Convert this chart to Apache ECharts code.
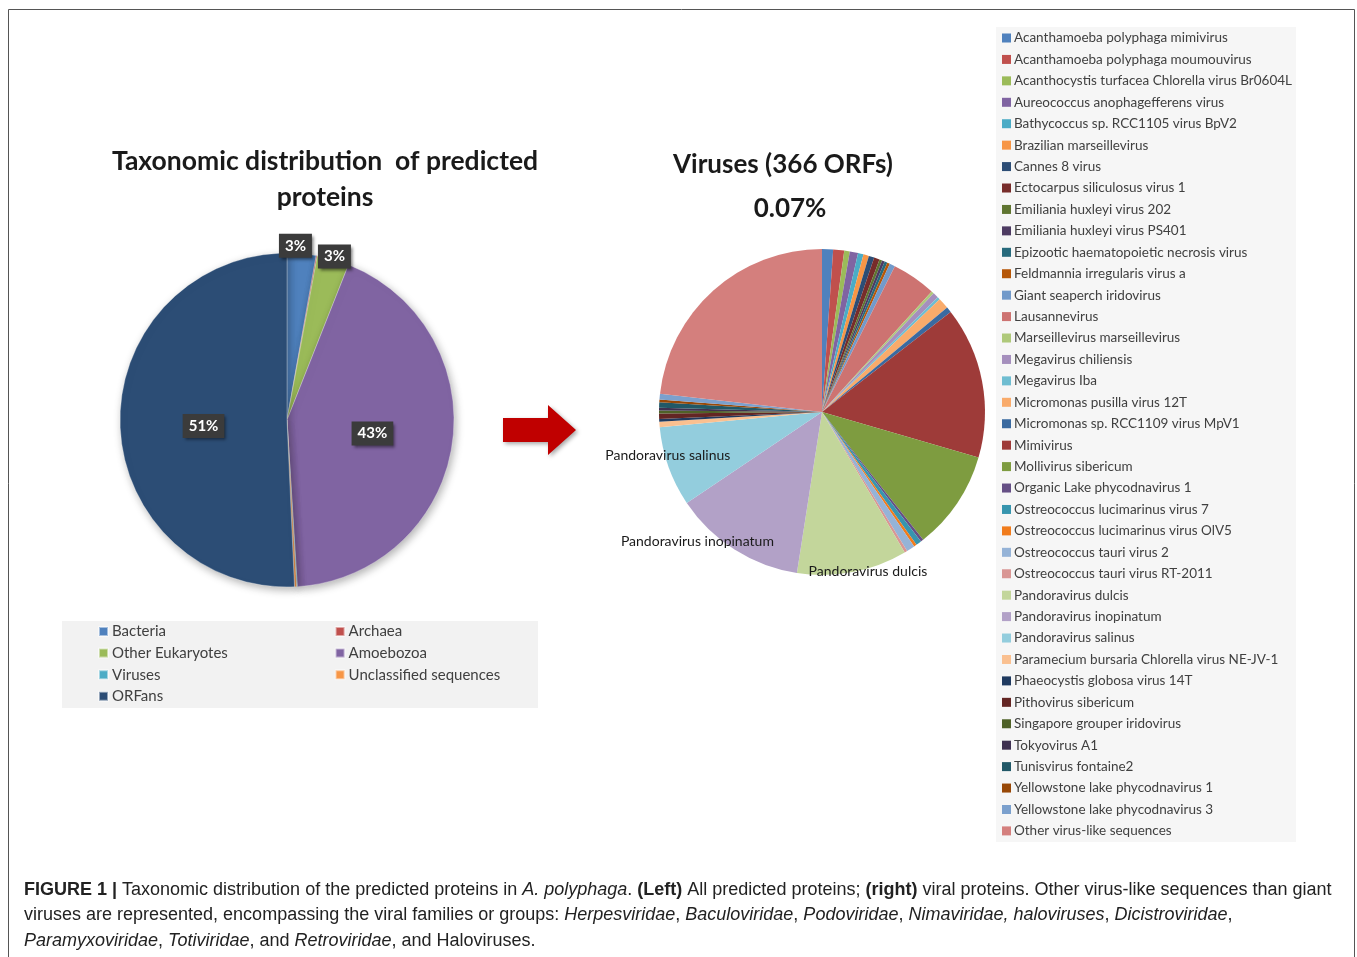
<!DOCTYPE html>
<html>
<head>
<meta charset="utf-8">
<script src="https://cdn.jsdelivr.net/npm/echarts@6/dist/echarts.min.js"></script>
<style>html,body{margin:0;padding:0;background:#fff;}#c{width:1357px;height:957px;}</style>
</head>
<body>
<div id="c"></div>
<script>
// ---- data ----
const leftCategories = ['Bacteria','Archaea','Other Eukaryotes','Amoebozoa','Viruses','Unclassified sequences','ORFans'];
const leftValues = [2.8, 0.1, 3.1, 43.0, 0.07, 0.2, 50.7];
const leftColors = ['#4F81BD','#C0504D','#9BBB59','#8064A2','#4BACC6','#F79646','#2C4D75'];

const virusCategories = [
  'Acanthamoeba polyphaga mimivirus','Acanthamoeba polyphaga moumouvirus','Acanthocystis turfacea Chlorella virus Br0604L',
  'Aureococcus anophagefferens virus','Bathycoccus sp. RCC1105 virus BpV2','Brazilian marseillevirus','Cannes 8 virus',
  'Ectocarpus siliculosus virus 1','Emiliania huxleyi virus 202','Emiliania huxleyi virus PS401',
  'Epizootic haematopoietic necrosis virus','Feldmannia irregularis virus a','Giant seaperch iridovirus','Lausannevirus',
  'Marseillevirus marseillevirus','Megavirus chiliensis','Megavirus Iba','Micromonas pusilla virus 12T',
  'Micromonas sp. RCC1109 virus MpV1','Mimivirus','Mollivirus sibericum','Organic Lake phycodnavirus 1',
  'Ostreococcus lucimarinus virus 7','Ostreococcus lucimarinus virus OlV5','Ostreococcus tauri virus 2',
  'Ostreococcus tauri virus RT-2011','Pandoravirus dulcis','Pandoravirus inopinatum','Pandoravirus salinus',
  'Paramecium bursaria Chlorella virus NE-JV-1','Phaeocystis globosa virus 14T','Pithovirus sibericum',
  'Singapore grouper iridovirus','Tokyovirus A1','Tunisvirus fontaine2','Yellowstone lake phycodnavirus 1',
  'Yellowstone lake phycodnavirus 3','Other virus-like sequences'
];
const virusValues = [4,4,2,3,2,2,2,2,1,1,1,1,2,16,1,2,1,4,2,55,36,1,2,1,3,1,40,48,29,2,1,2,1,1,2,1,2,85];
const virusColors = ['#4F81BD','#C0504D','#9BBB59','#8064A2','#4BACC6','#F79646','#2C4D75','#772C2A','#5F7530','#4D3B62',
  '#276A7C','#B65708','#729ACA','#CD7371','#AFC97A','#A58FBD','#6FBDD1','#F9AB6B','#3A6AA0','#9E3B39','#7E9C40','#654F85',
  '#3795AE','#F17C1C','#95B3D7','#D99694','#C3D69B','#B2A1C7','#93CDDD','#FAC090','#1F3A5F','#632523','#4F6228','#3F3151',
  '#215867','#984807','#7BA0CD','#D47F7D'];
const labelledViruses = ['Pandoravirus dulcis','Pandoravirus inopinatum','Pandoravirus salinus'];

const leftTitle = 'Taxonomic distribution  of predicted\nproteins';
const rightTitle = 'Viruses (366 ORFs)';
const rightSubtitle = '0.07%';

// ---- chart ----
const chart = echarts.init(document.getElementById('c'));
const FONT = 'Lato';
const leftLabelShown = [0, 2, 3, 6];
const leftInside = [3, 6];
const leftShift = {0: [-28, -5], 2: [-21, 0], 6: [3, 4]};
const overlayShift = {26: [16, 3], 27: [-39, -5], 28: [-4, -10]};

const leftData = leftCategories.map((n, i) => ({
  name: n, value: leftValues[i], itemStyle: {color: leftColors[i]},
  label: {show: leftLabelShown.includes(i), position: leftInside.includes(i) ? 'inside' : 'outside'}
}));
const rightData = virusCategories.map((n, i) => ({name: n, value: virusValues[i], itemStyle: {color: virusColors[i]}}));
const overlayData = virusCategories.map((n, i) => ({
  name: 'lbl' + i, value: virusValues[i],
  label: {show: labelledViruses.includes(n)}
}));

const caption =
  '{b|FIGURE 1 |} Taxonomic distribution of the predicted proteins in {i|A. polyphaga}. {b|(Left)} All predicted proteins; {b|(right)} viral proteins. Other virus-like sequences than giant\n' +
  'viruses are represented, encompassing the viral families or groups: {i|Herpesviridae}, {i|Baculoviridae}, {i|Podoviridae}, {i|Nimaviridae, haloviruses}, {i|Dicistroviridae},\n' +
  '{i|Paramyxoviridae}, {i|Totiviridae}, and {i|Retroviridae}, and Haloviruses.';

const CAP = 18;
const option = {
  animation: false,
  backgroundColor: '#fff',
  title: [
    {text: leftTitle, left: 325, top: 143, textAlign: 'center', padding: 0,
     textStyle: {fontFamily: FONT, fontSize: 26.5, fontWeight: 'bold', color: '#1a1a1a', lineHeight: 36}},
    {text: rightTitle, left: 783, top: 148, textAlign: 'center', padding: 0,
     textStyle: {fontFamily: FONT, fontSize: 26, fontWeight: 'bold', color: '#1a1a1a', lineHeight: 34}},
    {text: rightSubtitle, left: 790, top: 192, textAlign: 'center', padding: 0,
     textStyle: {fontFamily: FONT, fontSize: 26, fontWeight: 'bold', color: '#1a1a1a', lineHeight: 34}}
  ],
  legend: [
    {data: leftCategories, left: 98, top: 624, width: 480, orient: 'horizontal', padding: 0,
     itemGap: 6.6, itemWidth: 9, itemHeight: 9, icon: 'rect', selectedMode: false,
     textStyle: {fontFamily: FONT, fontSize: 15, color: '#404040', lineHeight: 15, width: 216, padding: [0, 0, 0, -1]}},
    {data: virusCategories, left: 1002, top: 31, orient: 'vertical', padding: 0,
     itemGap: 7.43, itemWidth: 9, itemHeight: 9, icon: 'rect', selectedMode: false,
     textStyle: {fontFamily: FONT, fontSize: 13.5, color: '#404040', lineHeight: 14, padding: [0, 0, 0, -2]}}
  ],
  graphic: [
    {type: 'rect', z: -10, shape: {x: 8.5, y: 9.5, width: 1346, height: 970}, style: {fill: 'none', stroke: '#555', lineWidth: 1}},
    {type: 'rect', z: -5, shape: {x: 62, y: 621, width: 476, height: 87}, style: {fill: '#F2F2F2'}},
    {type: 'rect', z: -5, shape: {x: 996, y: 27, width: 300, height: 815}, style: {fill: '#F6F6F6'}},
    {type: 'polygon', z: 1, shape: {points: [[503, 418], [548, 418], [548, 405], [576, 430], [548, 455], [548, 442], [503, 442]]},
     style: {fill: '#C00000', shadowBlur: 4, shadowColor: 'rgba(0,0,0,0.35)', shadowOffsetX: 2, shadowOffsetY: 2}},
    {type: 'text', left: 24, top: 877, z: 5,
     style: {text: caption, fontFamily: 'Liberation Sans', fontSize: CAP, lineHeight: 25.5, fill: '#222',
       rich: {
         b: {fontFamily: 'Liberation Sans', fontSize: CAP, fontWeight: 'bold', lineHeight: 25.5, fill: '#222'},
         i: {fontFamily: 'Liberation Sans', fontSize: CAP, fontStyle: 'italic', lineHeight: 25.5, fill: '#222'}
       }}}
  ],
  series: [
    {
      type: 'pie', name: 'allProteins', center: [287, 420], radius: [0, 167], startAngle: 90, clockwise: true,
      avoidLabelOverlap: false, silent: true,
      itemStyle: {borderColor: 'rgba(255,255,255,0.5)', borderWidth: 0.6,
        shadowBlur: 8, shadowColor: 'rgba(0,0,0,0.3)', shadowOffsetX: 2, shadowOffsetY: 3},
      label: {
        formatter: p => Math.round(p.percent) + '%',
        color: '#fff', fontFamily: FONT, fontWeight: 'bold', fontSize: 15,
        backgroundColor: '#3b3b3b', padding: [5, 6, 4, 6],
        shadowBlur: 3, shadowColor: 'rgba(0,0,0,0.5)', shadowOffsetX: 2, shadowOffsetY: 2
      },
      labelLine: {show: false, length: 3, length2: 0},
      labelLayout: p => {
        const s = leftShift[p.dataIndex];
        return s ? {dx: s[0], dy: s[1]} : {};
      },
      data: leftData
    },
    {
      type: 'pie', name: 'viralProteins', center: [822, 412], radius: [0, 163], startAngle: 90, clockwise: true,
      avoidLabelOverlap: false, silent: true,
      label: {show: false}, labelLine: {show: false},
      data: rightData
    },
    {
      type: 'pie', name: 'viralLabels', center: [822, 412], radius: [150, 163], startAngle: 90, clockwise: true,
      avoidLabelOverlap: false, silent: true, z: 3,
      itemStyle: {color: 'rgba(0,0,0,0)'},
      label: {position: 'inside', formatter: p => virusCategories[p.dataIndex],
        fontFamily: FONT, fontSize: 14, color: '#1a1a1a'},
      labelLine: {show: false},
      labelLayout: p => {
        const s = overlayShift[p.dataIndex];
        return s ? {dx: s[0], dy: s[1]} : {};
      },
      data: overlayData
    }
  ]
};
chart.setOption(option);
</script>
</body>
</html>
